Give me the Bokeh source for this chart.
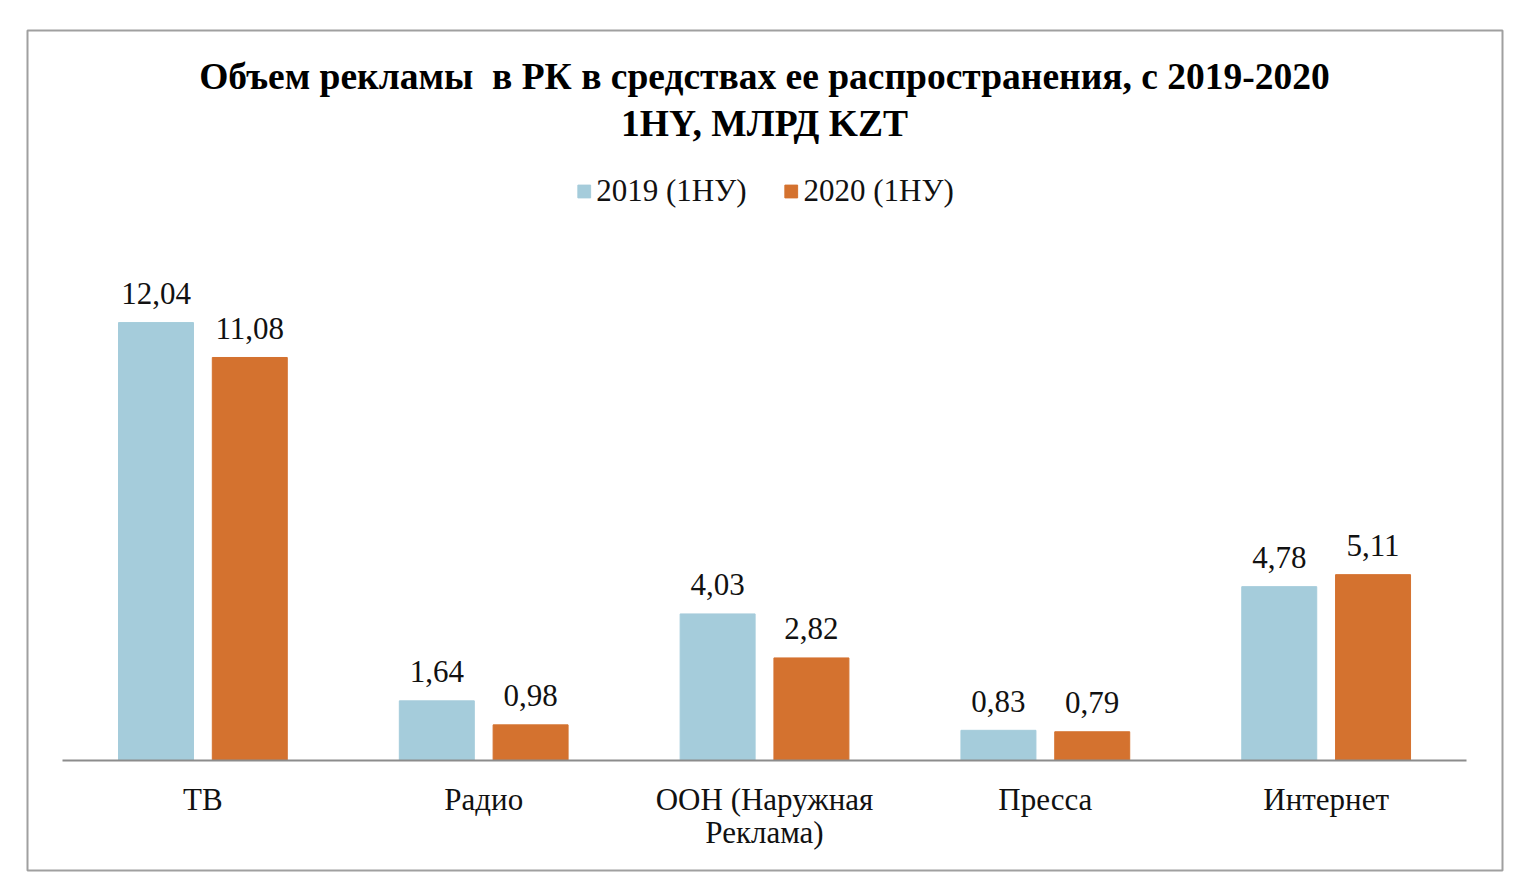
from bokeh.plotting import figure
from bokeh.models import (ColumnDataSource, Range1d, LinearAxis, FixedTicker,
                          Legend, LegendItem, Label)
from bokeh.transform import dodge
from bokeh.embed import file_html
from bokeh.resources import INLINE
from bokeh.core.properties import value

# ---- data ----
categories = ["ТВ", "Радио", "ООН (Наружная\nРеклама)", "Пресса", "Интернет"]
series_names = ["2019 (1НУ)", "2020 (1НУ)"]
values_2019 = [12.04, 1.64, 4.03, 0.83, 4.78]
values_2020 = [11.08, 0.98, 2.82, 0.79, 5.11]
title_text = "Объем рекламы \u00a0в РК в средствах ее распространения, с 2019-2020\n1НY, МЛРД KZT"

BLUE = "#A5CCDB"
ORANGE = "#D4722F"
FONT = "Liberation Serif"

idx = list(range(len(categories)))
src = ColumnDataSource(dict(
    idx=idx,
    v19=values_2019,
    v20=values_2020,
    l19=[f"{v:.2f}".replace(".", ",") for v in values_2019],
    l20=[f"{v:.2f}".replace(".", ",") for v in values_2020],
))

p = figure(width=1536, height=881, output_backend="svg", toolbar_location=None,
           x_range=Range1d(-0.6246, 4.628), y_range=Range1d(-3.024, 20.07),
           x_axis_location=None, y_axis_location=None,
           min_border_left=27, min_border_right=34, min_border_top=30, min_border_bottom=11)
p.grid.visible = False
p.outline_line_color = "#A0A0A0"
p.outline_line_width = 2
p.background_fill_color = "white"
p.border_fill_color = "white"

off = 0.167
bw = 0.267
r19 = p.vbar(x=dodge("idx", -off), top="v19", width=bw, source=src, color=BLUE)
r20 = p.vbar(x=dodge("idx", off), top="v20", width=bw, source=src, color=ORANGE)

for col, lab in (("v19", "l19"), ("v20", "l20")):
    d = -off if col == "v19" else off
    p.text(x=dodge("idx", d), y=col, text=lab, source=src,
           text_font=value(FONT), text_font_size="31px", text_color="#111111",
           text_align="center", text_baseline="alphabetic", y_offset=-29)

xaxis = LinearAxis(fixed_location=0, bounds=(-0.5, 4.5),
                   ticker=FixedTicker(ticks=idx),
                   major_label_overrides={i: c for i, c in zip(idx, categories)})
xaxis.axis_line_color = "#8C8C8C"
xaxis.axis_line_width = 2
xaxis.major_tick_line_color = None
xaxis.minor_tick_line_color = None
xaxis.major_label_text_font = FONT
xaxis.major_label_text_font_size = "31px"
xaxis.major_label_text_color = "#111111"
xaxis.major_label_text_line_height = 0.97
xaxis.major_label_standoff = 15
p.add_layout(xaxis, "below")

title = Label(x=737, y=815, x_units="screen", y_units="screen", text=title_text,
              text_font=FONT, text_font_size="37.5px", text_font_style="bold",
              text_align="center", text_baseline="top", text_line_height=1.15,
              text_color="#000000")
p.add_layout(title)

legend = Legend(items=[LegendItem(label=series_names[0], renderers=[r19]),
                       LegendItem(label=series_names[1], renderers=[r20])],
                orientation="horizontal", location="top_center", margin=143,
                padding=0, spacing=36, label_standoff=5,
                glyph_width=16, glyph_height=16,
                label_text_font=FONT, label_text_font_size="31px",
                label_text_color="#111111",
                border_line_color=None, background_fill_alpha=0)
p.add_layout(legend, "center")

open("out.html", "w").write(file_html(p, INLINE))
